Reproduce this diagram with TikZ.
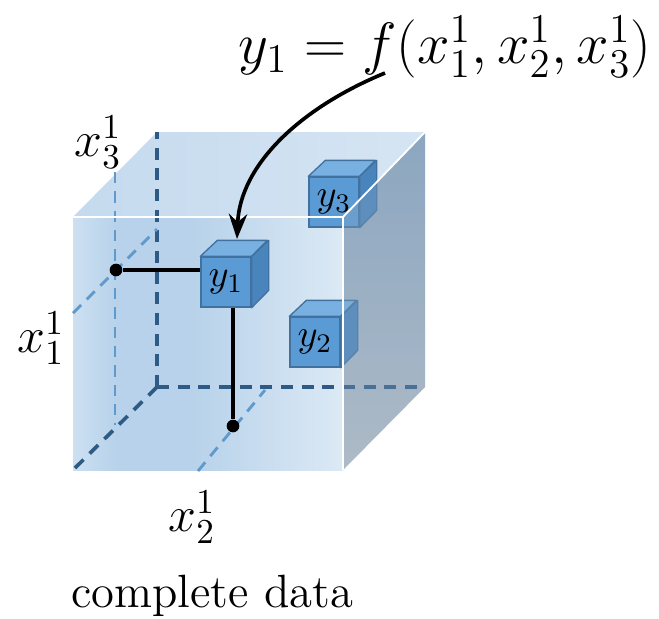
\RequirePackage{fix-cm}
\documentclass[tikz,border=0pt]{standalone}
\usetikzlibrary{arrows.meta,calc}
\definecolor{frontL}{HTML}{CDE0F1}
\definecolor{frontM}{HTML}{B7D2EA}
\definecolor{frontR}{HTML}{DCE9F5}
\definecolor{topL}{HTML}{C4DAEE}
\definecolor{topR}{HTML}{D6E5F3}
\definecolor{rightT}{HTML}{8CA7C1}
\definecolor{rightB}{HTML}{BCC3CA}
\definecolor{dashdark}{HTML}{2D5B85}
\definecolor{dashlight}{HTML}{6099CC}
\definecolor{cubefront}{HTML}{5B9BD5}
\definecolor{cubetop}{HTML}{79B0E2}
\definecolor{cubeside}{HTML}{4A84BD}
\definecolor{cubeedge}{HTML}{41729F}
\pgfdeclarehorizontalshading{frontshade}{100bp}{color(0bp)=(frontL); color(25bp)=(frontL); color(33bp)=(frontM); color(47bp)=(frontM); color(75bp)=(frontR); color(100bp)=(frontR)}
\newcommand{\smallcube}[4]{%
  \node[cubebox] (#1) at (#2,#3) {$#4$};
  \filldraw[fill=cubetop, draw=cubeedge, line width=0.4pt, line join=round]
    (#1.north west) -- ++(17,-16) -- ++(50,0) -- (#1.north east) -- cycle;
  \filldraw[fill=cubeside, draw=cubeedge, line width=0.4pt, line join=round]
    (#1.north east) -- ++(17,-16) -- ++(0,50) -- (#1.south east) -- cycle;
  \node[cubebox] at (#1) {$#4$};
}
\begin{document}
\begin{tikzpicture}[x=0.3pt,y=-0.3pt,
  cubebox/.style={rectangle, fill=cubefront, draw=cubeedge, line width=0.4pt,
    minimum width=15pt, minimum height=15pt, inner sep=0pt,
    font=\fontsize{11.5}{13}\selectfont},
  darkdash/.style={draw=dashdark, line width=1.1pt, dash pattern=on 3.6pt off 2.6pt},
  lightdash/.style={draw=dashlight, line width=0.85pt, dash pattern=on 3.4pt off 2.4pt},
  whiteedge/.style={draw=white, line width=0.55pt},
  blackline/.style={draw=black, line width=1.15pt},
  dotnode/.style={circle, fill=black, inner sep=0pt, minimum size=3.8pt},
  axislabel/.style={font=\fontsize{15}{18}\selectfont, inner sep=0pt},
  pointer/.style={draw=black, line width=1.1pt, -{Stealth[length=7.5pt,width=5.5pt]}}
]
\useasboundingbox (0,0) rectangle (659,618);
% big cube corners
\coordinate (F1) at (73,217);
\coordinate (F2) at (343,217);
\coordinate (F3) at (343,470);
\coordinate (F4) at (73,470);
\coordinate (B1) at (157,132);
\coordinate (B2) at (425,132);
\coordinate (B3) at (425,387);
\coordinate (B4) at (157,387);
% faces
\shade[shading=frontshade] (F1) rectangle (F3);
\shade[left color=topL, right color=topR] (F1) -- (B1) -- (B2) -- (F2) -- cycle;
\shade[top color=rightT, bottom color=rightB] (F2) -- (B2) -- (B3) -- (F3) -- cycle;
% hidden back edges
\draw[darkdash] (B4) -- (B1);
\draw[darkdash] (B4) -- (B3);
\draw[darkdash] (B4) -- (F4);
% guide lines
\coordinate (L1a) at (115,172);
\coordinate (L1b) at (115,425);
\coordinate (L2a) at (73,313);
\coordinate (L2b) at (157,229);
\coordinate (L3a) at (198,471);
\coordinate (L3b) at (265,390);
\draw[lightdash] (L1a) -- (L1b);
\draw[lightdash] (L2a) -- (L2b);
\draw[lightdash] (L3a) -- (L3b);
% small cubes
\smallcube{y3}{334}{202}{y_3}
\smallcube{y2}{315}{342}{y_2}
\smallcube{y1}{226}{282}{y_1}
% right face tint over cubes
\fill[rightT, opacity=0.3] (F2) -- (B2) -- (B3) -- (F3) -- cycle;
% white front edges
\draw[whiteedge] (F1) -- (F2) -- (F3);
\draw[whiteedge] (F2) -- (B2);
% dots and projections
\node[dotnode] (p1) at (116,270) {};
\node[dotnode] (p2) at (233,426) {};
\draw[blackline] (p1) -- (p1 -| y1.west);
\draw[blackline] (p2 |- y1.south) -- (p2);
% labels
\node[axislabel] (lx3) at (98,142) {$x_3^1$};
\node[axislabel] (lx1) at (41,338) {$x_1^1$};
\node[axislabel] (lx2) at (192,517) {$x_2^1$};
\node[inner sep=0pt, font=\fontsize{17.5}{20}\selectfont] (formula) at (445,47) {$y_1 = f(x_1^1, x_2^1, x_3^1)$};
\node[inner sep=0pt, font=\fontsize{14}{17}\selectfont] (caption) at (212,596) {complete data};
% arrow
\coordinate (astart) at (385,73);
\coordinate (aend) at (237,239);
\draw[pointer] (astart) .. controls (300,108) and (240,165) .. (aend);
\end{tikzpicture}
\end{document}
